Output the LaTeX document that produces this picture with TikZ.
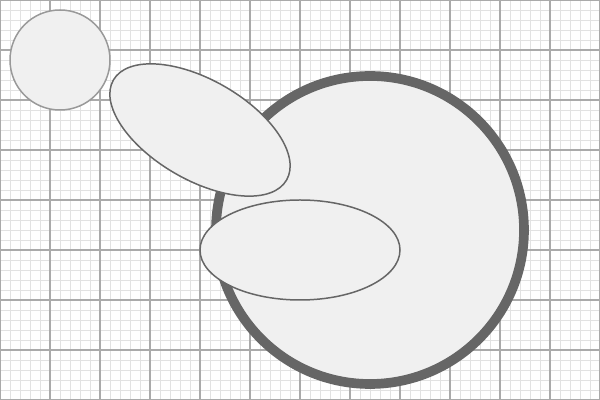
\documentclass[tikz,border=0pt]{standalone}
\usepackage{tikz}
\usetikzlibrary{shapes.geometric, positioning}

\definecolor{shapefill}{HTML}{F0F0F0}
\definecolor{edgedark}{HTML}{666666}
\definecolor{edgelight}{HTML}{999999}
\definecolor{gridmajor}{HTML}{AAAAAA}
\definecolor{gridminor}{HTML}{E2E2E2}

\begin{document}
\begin{tikzpicture}[
    blob/.style={fill=shapefill, draw=edgedark, line width=0.85pt, inner sep=0pt},
    oval/.style={blob, ellipse, minimum width=4cm, minimum height=2cm}
  ]
        \useasboundingbox (0,0) rectangle (12,8);
        % Grid
        \fill [white] (0,0) rectangle (12,8);
        \draw [gridminor, line width=0.5pt, step=0.2] (0,0) grid (12,8);
        \draw [gridmajor, line width=0.6pt, step=1] (0,0) grid (12,8);

        % Circles
        \node [blob, circle, draw=edgelight, minimum size=2cm] (small) at (1.2,6.8) {};
        \node [blob, circle, line width=5.5pt, minimum size=6.16cm] (big) at (7.4,3.4) {};

        % Ellipses
        \node [oval, rotate=-30] (tilted) at (4,5.4) {};
        \node [oval] (flat) at (6,3) {};
    \end{tikzpicture}
\end{document}
